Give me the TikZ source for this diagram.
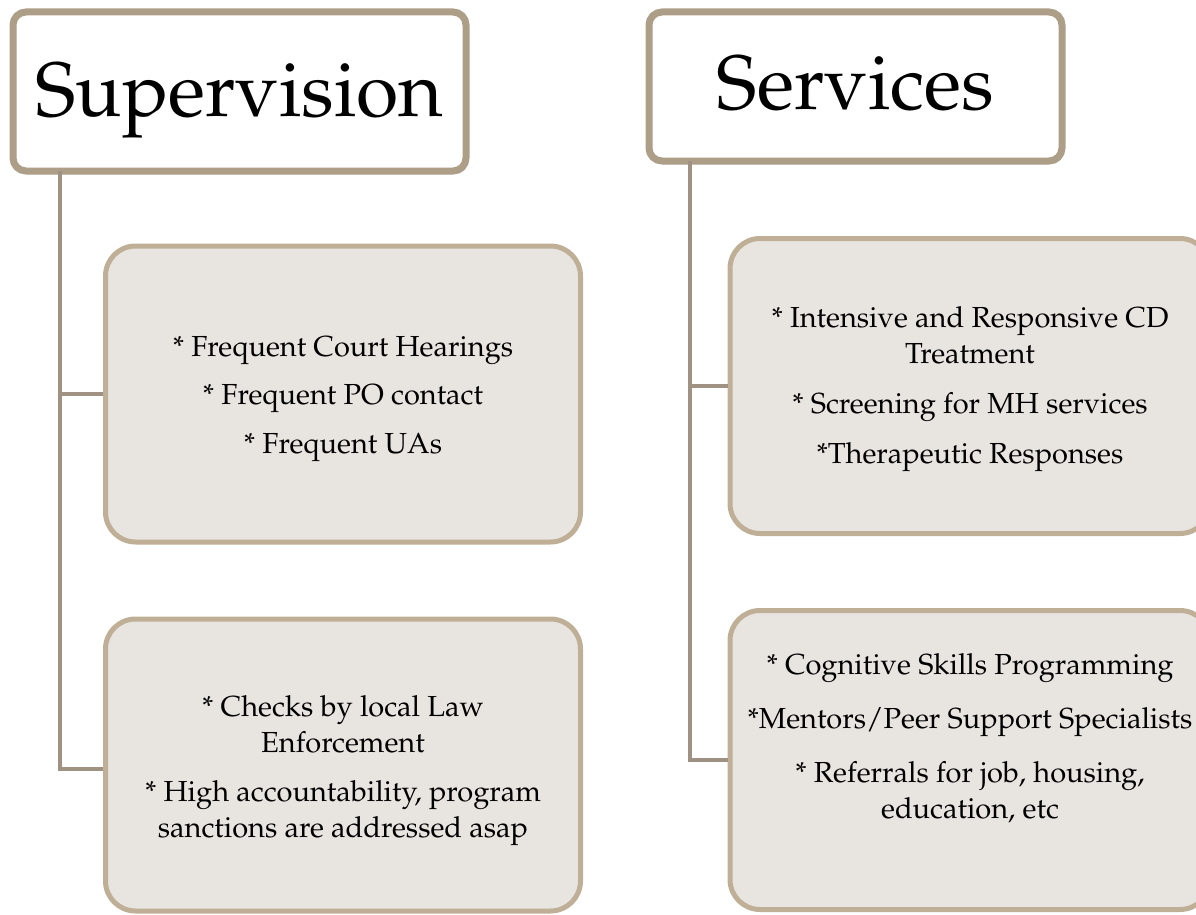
\documentclass[tikz,border=0pt]{standalone}
\usepackage[T1]{fontenc}
\usepackage{mathpazo}
\usetikzlibrary{shadows}
\definecolor{titleborder}{HTML}{AD9E88}
\definecolor{boxborder}{HTML}{C0AF97}
\definecolor{boxfill}{HTML}{E8E4E0}
\definecolor{connline}{HTML}{9F9283}
\tikzset{
  titlebox/.style={draw=titleborder, line width=7pt, fill=white, rounded corners=13pt, outer sep=0pt,
    drop shadow={shadow xshift=2pt, shadow yshift=-3pt, opacity=0.35, fill=black!60}},
  itembox/.style={draw=boxborder, line width=5pt, fill=boxfill, rounded corners=30pt},
  titletext/.style={font=\fontsize{77}{90}\selectfont, anchor=base, inner sep=0pt},
  bodytext/.style={font=\fontsize{29}{36}\selectfont, align=center, anchor=base, inner sep=0pt},
  conn/.style={draw=connline, line width=4.5pt}
}
\begin{document}
\begin{tikzpicture}[x=1pt,y=-1pt]
\useasboundingbox (0,0) rectangle (1196,915);
\node[titlebox, minimum width=453pt, minimum height=159pt] (sup) at (239.5,91.5) {};
\node[titlebox, minimum width=413pt, minimum height=149pt] (ser) at (855.5,86.5) {};
\coordinate (lv) at ([xshift=47pt]sup.south west);
\coordinate (rv) at ([xshift=41pt]ser.south west);
\node[itembox, minimum width=475pt, minimum height=296pt] (b1) at (343,394) {};
\node[itembox, minimum width=475pt, minimum height=292pt] (b2) at (343,765) {};
\node[itembox, minimum width=480pt, minimum height=295pt] (b3) at (970,386) {};
\node[itembox, minimum width=480pt, minimum height=299pt] (b4) at (970,760) {};
\draw[conn] (lv) |- (b1.west);
\draw[conn] (lv) |- ([yshift=-4pt]b2.west);
\draw[conn] (rv) |- (b3.west);
\draw[conn] (rv) |- (b4.west);
% titles
\node[titletext] (supt) at (239.5,117) {Supervision};
\node[titletext] (sert) at (855.5,110) {Services};
% body texts (anchor base = baseline of last line)
\node[bodytext, font=\fontsize{29}{48.5}\selectfont] (t1) at (343,453) {* Frequent Court Hearings\\* Frequent PO contact\\* Frequent UAs};
\node[bodytext] (t2) at (343,837) {* Checks by local Law\\Enforcement\\[13pt]* High accountability, program\\sanctions are addressed asap};
\node[bodytext] (t3) at (970,463) {* Intensive and Responsive CD\\Treatment\\[14pt]* Screening for MH services\\[14pt]*Therapeutic Responses};
\node[bodytext] (t4) at (970,818) {* Cognitive Skills Programming\\[18pt]*Mentors/Peer Support Specialists\\[18pt]* Referrals for job, housing,\\education, etc};
\end{tikzpicture}
\end{document}
